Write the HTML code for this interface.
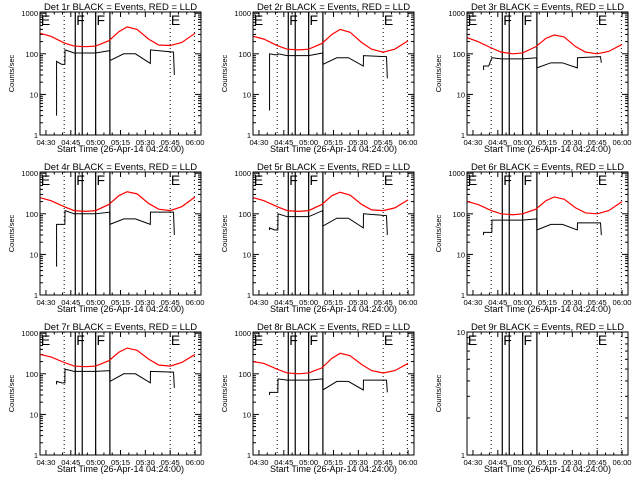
<!DOCTYPE html>
<html><head><meta charset="utf-8"><style>
body{margin:0;background:#fff}
svg{display:block}
text{font-family:"Liberation Sans",sans-serif;fill:#000}
</style></head><body>
<svg id="chart" width="640" height="480" viewBox="0 0 640 480" xmlns="http://www.w3.org/2000/svg"></svg>
<script>
const detNames = ["1r","2r","3r","4r","5r","6r","7r","8r","9r"];
const redTimes = [26.5,33,41,47,54,60,68,74,79,85,92,98,105,112,120];
const blackTimes = [36.4,36.4,39.5,41.4,41.5,47,60,68.5,68.6,77,84,93,93.1,107,107.5];
const red1 = [320,270,185,155,150,155,210,350,460,400,230,165,160,190,320];
const red2 = [270,230,160,130,125,130,180,300,400,340,190,130,110,130,210];
const red3 = [250,200,140,110,100,105,150,240,290,260,150,110,100,115,170];
const red4 = [250,210,150,120,115,120,170,280,350,310,180,130,120,150,260];
const red5 = [250,210,150,120,115,120,170,280,340,290,170,125,120,140,220];
const red6 = [200,170,120,100,95,100,130,210,260,230,140,105,100,120,200];
const red7 = [300,260,190,155,150,155,210,340,430,380,230,165,155,190,300];
const red8 = [200,180,130,105,100,105,140,240,320,280,170,120,105,120,180];
const black1 = [3,65,55,55,125,105,105,120,68,100,100,58,125,110,30];
const black2 = [4,100,95,95,100,90,90,105,55,80,80,50,90,85,25];
const black3 = [40,50,50,80,80,75,75,80,45,60,60,45,80,85,60];
const black4 = [5,55,55,55,120,100,100,110,55,75,75,55,110,110,30];
const black5 = [40,45,40,40,100,85,85,120,50,78,78,45,100,90,30];
const black6 = [30,35,35,35,70,70,70,75,40,55,55,40,60,60,30];
const black7 = [55,65,60,60,130,115,115,120,65,100,100,60,115,110,45];
const black8 = [30,35,35,35,75,70,70,75,40,65,65,40,70,70,35];
const redSeries = [red1,red2,red3,red4,red5,red6,red7,red8,null];
const blackSeries = [black1,black2,black3,black4,black5,black6,black7,black8,null];
const xTickMins = [30,45,60,75,90,105,120];
const xTickLabels = ["04:30","04:45","05:00","05:15","05:30","05:45","06:00"];
const dottedLines = [41,105,119.6];
const solidLines = [47.7,51.9,60,68.6];
const markLetters = ["E","F","F","E"];
const markMins = [26.9,48.3,60.5,105.4];

const NS="http://www.w3.org/2000/svg";
const svg=document.getElementById('chart');
function mk(tag,attrs,parent){const e=document.createElementNS(NS,tag);for(const k in attrs)e.setAttribute(k,attrs[k]);parent.appendChild(e);return e;}

for(let p=0;p<9;p++){
  const ox=Math.round((p%3)*213.4), oy=Math.floor(p/3)*160;
  const L=ox+40,R=ox+201,T=oy+12,B=oy+135;
  const tMin=26.4,tMax=123.6;
  const ymaxDec = p===8?1:3;
  const decTop = p===8 ? 1.0 : 3.03;
  const xs=t=>L+(t-tMin)/(tMax-tMin)*(R-L);
  const ys=v=>B-(Math.log10(v))/decTop*(B-T);
  const g=mk('g',{},svg);
  
  
  const title=mk('text',{x:(L+R)/2,y:oy+10,'font-size':9.5,'text-anchor':'middle'},g);
  title.textContent='Det '+detNames[p]+' BLACK = Events, RED = LLD';
  
  
  const yt=mk('text',{x:0,y:0,'font-size':7.5,'text-anchor':'middle',transform:`translate(${ox+14},${(T+B)/2}) rotate(-90)`},g);
  yt.textContent='Counts/sec';
  
  
  const xt=mk('text',{x:(L+R)/2,y:oy+152,'font-size':9,'text-anchor':'middle'},g);
  xt.textContent='Start Time (26-Apr-14 04:24:00)';
  
  
  for(let m=30;m<=120;m+=5){const x=xs(m);const len=(m%15===0)?5:2.5;
    mk('line',{x1:x,y1:B,x2:x,y2:B-len,stroke:'#000','stroke-width':1},g);
    mk('line',{x1:x,y1:T,x2:x,y2:T+len,stroke:'#000','stroke-width':1},g);}
  xTickMins.forEach((m,i)=>{const t=mk('text',{x:xs(m),y:B+10,'font-size':7.5,'text-anchor':'middle','textLength':19,'lengthAdjust':'spacingAndGlyphs'},g);t.textContent=xTickLabels[i];
    
    });
  for(let d=0;d<=ymaxDec;d++){
    const y=ys(Math.pow(10,d));
    mk('line',{x1:L,y1:y,x2:L+6,y2:y,stroke:'#000'},g);
    mk('line',{x1:R,y1:y,x2:R-6,y2:y,stroke:'#000'},g);
    const t=mk('text',{x:L-2,y:y+3,'font-size':7.5,'text-anchor':'end'},g);t.textContent=String(Math.pow(10,d));
    
    
    if(d<ymaxDec)for(let k=2;k<=9;k++){const yy=ys(k*Math.pow(10,d));
      mk('line',{x1:L,y1:yy,x2:L+3,y2:yy,stroke:'#000'},g);
      mk('line',{x1:R,y1:yy,x2:R-3,y2:yy,stroke:'#000'},g);}
  }
  dottedLines.forEach(m=>{const l=mk('line',{x1:xs(m),y1:T,x2:xs(m),y2:B,stroke:'#000','stroke-dasharray':'1,3'},g);
    
    });
  solidLines.forEach(m=>{const l=mk('line',{x1:xs(m),y1:T,x2:xs(m),y2:B,stroke:'#000','stroke-width':1.2},g);
    
    });
  markLetters.forEach((c,i)=>{const t=mk('text',{x:xs(markMins[i]),y:T+13,'font-size':14},g);t.textContent=c;
    
    });
  if(redSeries[p]){
    const rp=mk('polyline',{points:redTimes.map((t,i)=>xs(t)+','+ys(redSeries[p][i])).join(' '),fill:'none',stroke:'#f00','stroke-width':1.2},g);
    
    
    const bp=mk('polyline',{points:blackTimes.map((t,i)=>xs(t)+','+ys(blackSeries[p][i])).join(' '),fill:'none',stroke:'#000','stroke-width':1},g);
    
    
  }
  const box=mk('rect',{x:L,y:T,width:R-L,height:B-T,fill:'none',stroke:'#000','stroke-width':1},g);
  
  
}
</script>
</body></html>
